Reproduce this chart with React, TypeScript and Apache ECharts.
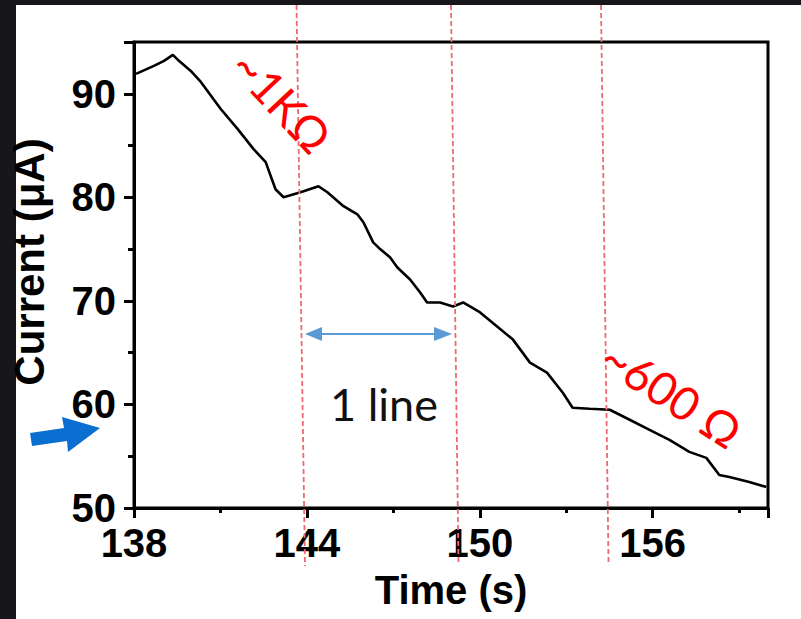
import React, { useEffect, useRef } from 'react';
import * as echarts from 'echarts';

const times = [138.07, 138.69, 139.04, 139.35, 139.56, 139.97, 140.32, 141.01, 141.6, 142.15, 142.57, 142.91, 143.19, 143.78, 144.4, 144.71, 145.27, 145.75, 145.96, 146.3, 146.55, 146.89, 147.14, 147.58, 147.93, 148.17, 148.62, 149.07, 149.42, 150.01, 150.6, 151.15, 151.74, 152.33, 152.88, 153.22, 153.81, 154.51, 155.2, 155.89, 156.58, 157.27, 157.86, 158.31, 158.66, 159.35, 159.94];
const currents = [91.92, 92.69, 93.18, 93.76, 93.18, 92.21, 91.14, 88.53, 86.59, 84.66, 83.4, 80.78, 80.01, 80.49, 81.07, 80.49, 79.14, 78.36, 77.59, 75.65, 74.98, 74.2, 73.23, 72.07, 70.81, 69.85, 69.85, 69.46, 69.85, 68.88, 67.52, 66.26, 64.04, 63.07, 61.13, 59.68, 59.58, 59.49, 58.52, 57.55, 56.58, 55.42, 54.84, 53.19, 53.0, 52.52, 52.03];
const xTicks = [138, 144, 150, 156];
const yTicks = [50, 60, 70, 80, 90];

export default function App() {
  const ref = useRef<HTMLDivElement>(null);
  useEffect(() => {
    const chart = echarts.init(ref.current!, null, { renderer: 'svg' });
    const data = times.map((t, i) => [t, currents[i]]);
    const dashed = { stroke: '#ec6a72', lineWidth: 1.8, lineDash: [5, 3] };
    chart.setOption({
      animation: false,
      backgroundColor: '#ffffff',
      grid: {
        left: 133, right: 33, top: 42, bottom: 111,
        show: true, borderColor: '#000', borderWidth: 3, backgroundColor: 'transparent',
      },
      xAxis: {
        type: 'value', min: 138, max: 160, interval: 6,
        name: 'Time (s)', nameLocation: 'middle', nameGap: 62,
        nameTextStyle: { fontFamily: 'Liberation Sans', fontWeight: 'bold', fontSize: 40, color: '#000' },
        axisLine: { show: true, lineStyle: { color: '#000', width: 3 } },
        axisTick: { show: true, inside: false, length: 10, lineStyle: { color: '#000', width: 3 } },
        minorTick: { show: true, splitNumber: 2, length: 5, lineStyle: { color: '#000', width: 3 } },
        splitLine: { show: false },
        axisLabel: {
          margin: 20, lineHeight: 30, fontFamily: 'Liberation Sans', fontWeight: 'bold', fontSize: 40, color: '#000',
          showMaxLabel: false,
          formatter: (v: number) => (xTicks.includes(v) ? String(v) : ''),
        },
      },
      yAxis: {
        type: 'value', min: 50, max: 95, interval: 10,
        name: 'Current (μA)', nameLocation: 'middle', nameGap: 84,
        nameTextStyle: { fontFamily: 'Liberation Sans', fontWeight: 'bold', fontSize: 42, color: '#000', padding: [0, 0, 0, 26] },
        axisLine: { show: true, lineStyle: { color: '#000', width: 3 } },
        axisTick: { show: true, inside: false, length: 10, lineStyle: { color: '#000', width: 3 } },
        minorTick: { show: true, splitNumber: 2, length: 6, lineStyle: { color: '#000', width: 3 } },
        splitLine: { show: false },
        axisLabel: {
          margin: 18, lineHeight: 30, fontFamily: 'Liberation Sans', fontWeight: 'bold', fontSize: 40, color: '#000',
          showMaxLabel: false,
          formatter: (v: number) => (yTicks.includes(v) ? String(v) : ''),
        },
      },
      series: [
        {
          type: 'line', data, showSymbol: false, smooth: false,
          lineStyle: { color: '#000', width: 2.6 },
          z: 3,
        },
      ],
      graphic: [
        { type: 'rect', z: 0, silent: true, shape: { x: 0, y: 0, width: 16, height: 619 }, style: { fill: '#17161b' } },
        { type: 'rect', z: 0, silent: true, shape: { x: 0, y: 0, width: 801, height: 5 }, style: { fill: '#17161b' } },
        { type: 'line', z: 50, silent: true, shape: { x1: 296.5, y1: 5, x2: 305, y2: 566 }, style: dashed },
        { type: 'line', z: 50, silent: true, shape: { x1: 451, y1: 5, x2: 458.5, y2: 562 }, style: dashed },
        { type: 'line', z: 50, silent: true, shape: { x1: 601, y1: 5, x2: 608.5, y2: 562 }, style: dashed },
        { type: 'line', z: 50, silent: true, shape: { x1: 318, y1: 334, x2: 438, y2: 334 }, style: { stroke: '#5b9bd5', lineWidth: 2 } },
        { type: 'polygon', z: 50, silent: true, shape: { points: [[305, 334], [322, 327], [322, 341]] }, style: { fill: '#5b9bd5' } },
        { type: 'polygon', z: 50, silent: true, shape: { points: [[452, 334], [434, 327], [434, 341]] }, style: { fill: '#5b9bd5' } },
        { type: 'polygon', z: 50, silent: true, shape: { points: [[30, 433], [64, 428], [62, 417], [100, 428], [68, 452], [67, 441], [32, 446]] }, style: { fill: '#0b6fd1' } },
        {
          type: 'text', z: 60, silent: true, x: 282, y: 101, rotation: -47 * Math.PI / 180,
          style: { text: '~1KΩ', fill: '#ff0000', font: '46px Lato', align: 'center', verticalAlign: 'middle' },
        },
        {
          type: 'text', z: 60, silent: true, x: 672, y: 394, rotation: -33 * Math.PI / 180,
          style: { text: '~600 Ω', fill: '#ff0000', font: '46px Lato', align: 'center', verticalAlign: 'middle' },
        },
        {
          type: 'text', z: 60, silent: true, x: 384, y: 404,
          style: { text: '1 line', fill: '#111', font: '45px Lato', align: 'center', verticalAlign: 'middle' },
        },
      ],
    });
    return () => chart.dispose();
  }, []);
  return <div ref={ref} style={{ position: 'absolute', left: 0, top: 0, width: 801, height: 619 }} />;
}
